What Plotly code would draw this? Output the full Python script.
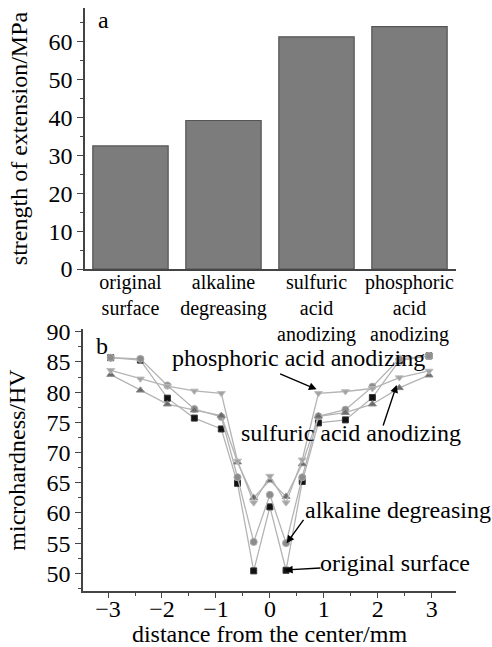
import plotly.graph_objects as go

# ---- data: panel a ----
categories = ["original<br>surface", "alkaline<br>degreasing",
              "sulfuric<br>acid<br>anodizing", "phosphoric<br>acid<br>anodizing"]
strength = [32.5, 39.2, 61.3, 64.0]

# ---- data: panel b ----
distance = [-2.95, -2.4, -1.9, -1.4, -0.9, -0.6, -0.3, 0.0, 0.3, 0.6, 0.9, 1.4, 1.9, 2.4, 2.95]
original_surface = [85.7, 85.3, 79.0, 75.7, 73.9, 64.9, 50.4, 61.0, 50.5, 65.2, 74.9, 75.4, 79.1, 85.2, 86.0]
alkaline_degreasing = [85.7, 85.5, 81.1, 77.2, 75.9, 65.9, 55.2, 63.0, 55.0, 65.9, 76.0, 77.1, 80.9, 85.5, 86.0]
sulfuric_anodizing = [82.9, 80.3, 78.0, 77.0, 76.1, 68.4, 62.5, 65.4, 62.7, 68.1, 76.0, 76.6, 78.0, 80.7, 82.8]
phosphoric_anodizing = [83.6, 82.2, 81.0, 80.2, 79.8, 68.6, 61.7, 66.1, 61.7, 68.8, 79.8, 80.1, 80.6, 82.4, 83.5]

FONT = "Liberation Serif, Times New Roman, serif"
FS = 24
W, H = 492, 647

fig = go.Figure()

fig.add_trace(go.Bar(
    x=list(range(len(categories))), y=strength,
    marker=dict(color="#7c7c7c", line=dict(color="#555555", width=1.2)),
    xaxis="x", yaxis="y", showlegend=False,
))

series = [
    ("original surface", original_surface, "square", "#111111", "#333333", 6),
    ("alkaline degreasing", alkaline_degreasing, "circle", "#8c8c8c", "#a8a8a8", 7),
    ("sulfuric acid anodizing", sulfuric_anodizing, "triangle-up", "#6a6a6a", "#8a8a8a", 7),
    ("phosphoric acid anodizing", phosphoric_anodizing, "triangle-down", "#a3a3a3", "#bdbdbd", 7),
]
for name, vals, sym, col, lcol, sz in series:
    fig.add_trace(go.Scatter(
        x=distance, y=vals, name=name, mode="lines+markers",
        line=dict(color="#b4b4b4", width=1.3),
        marker=dict(symbol=sym, color=col, size=sz, line=dict(color=lcol, width=1)),
        xaxis="x2", yaxis="y2", showlegend=False,
    ))

axis_common = dict(
    showline=True, linecolor="#444444", linewidth=1.5,
    tickcolor="#444444", tickwidth=1.3,
    showgrid=False, zeroline=False, automargin=False,
    title_font=dict(family=FONT, size=FS, color="black"),
)
tfont = dict(family=FONT, size=FS, color="black")

def px_x(p):
    return p / W

def px_y(p):
    return 1 - p / H

fig.update_layout(
    width=W, height=H,
    margin=dict(l=0, r=0, t=0, b=0),
    paper_bgcolor="white", plot_bgcolor="white",
    bargap=0.19,
    xaxis=dict(domain=[px_x(85), px_x(456)], anchor="y",
               tickmode="array", tickvals=list(range(len(categories))), ticktext=categories,
               range=[-0.489, 3.5], ticks="", tickangle=0, ticklabelstandoff=-6,
               tickfont=dict(family=FONT, size=20, color="black"), **axis_common),
    yaxis=dict(domain=[px_y(269), px_y(8)], anchor="x",
               range=[0, 68.9], dtick=10, tick0=0, ticks="outside", ticklen=6, tickfont=tfont,
               minor=dict(dtick=5, ticks="outside", ticklen=3, tickcolor="#444444"),
               title=dict(text="strength of extension/MPa", standoff=14), **axis_common),
    xaxis2=dict(domain=[px_x(83), px_x(456)], anchor="y2",
                range=[-3.464, 3.45], dtick=1, tick0=0, ticks="outside", ticklen=5, tickfont=tfont,
                ticklabelstandoff=-10,
                minor=dict(dtick=0.5, ticks="outside", ticklen=3, tickcolor="#444444"),
                title=dict(text="distance from the center/mm", standoff=12), **axis_common),
    yaxis2=dict(domain=[px_y(591), px_y(329)], anchor="x2",
                range=[47.07, 90.45], dtick=5, tick0=0, ticks="outside", ticklen=6, tickfont=tfont,
                minor=dict(dtick=2.5, ticks="outside", ticklen=3, tickcolor="#444444"),
                title=dict(text="microhardness/HV", standoff=14), **axis_common),
)

ann_font = dict(family=FONT, size=FS, color="black")
annotations = [
    dict(text="a", x=px_x(103), y=px_y(20), xref="paper", yref="paper", xanchor="center", yanchor="middle",
         showarrow=False, font=ann_font),
    dict(text="b", x=px_x(102), y=px_y(346), xref="paper", yref="paper", xanchor="center", yanchor="middle",
         showarrow=False, font=ann_font),
    dict(text="phosphoric acid anodizing", x=0.525, y=85.7, xref="x2", yref="y2", showarrow=False, font=ann_font),
    dict(text="sulfuric acid anodizing", x=1.50, y=73.2, xref="x2", yref="y2", showarrow=False, font=ann_font),
    dict(text="alkaline degreasing", x=2.37, y=60.5, xref="x2", yref="y2", showarrow=False, font=ann_font),
    dict(text="original surface", x=2.32, y=51.7, xref="x2", yref="y2", showarrow=False, font=ann_font),
]
arrows = [
    (0.866, 80.46, -38, -16),
    (2.35, 81.18, -14, 42),
    (0.31, 54.97, 18, -25),
    (0.28, 50.55, 37, -2),
]
for x, y, ax, ay in arrows:
    annotations.append(dict(x=x, y=y, xref="x2", yref="y2", ax=ax, ay=ay, text="",
                            showarrow=True, arrowhead=2, arrowsize=1.1, arrowwidth=1.4,
                            arrowcolor="black", standoff=0))
fig.update_layout(annotations=annotations)

fig.write_html("out.html")
